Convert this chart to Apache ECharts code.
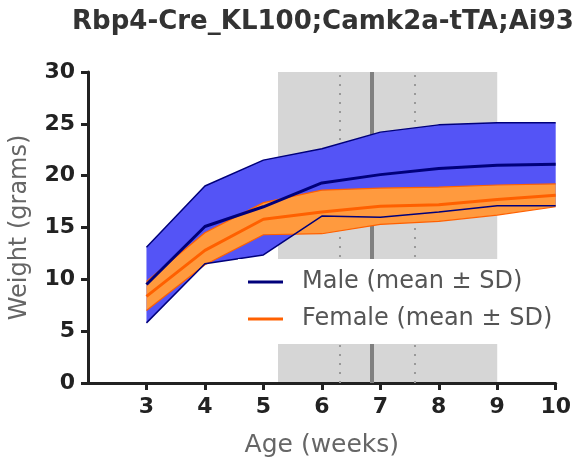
<!DOCTYPE html>
<html><head><meta charset="utf-8">
<script src="https://cdn.jsdelivr.net/npm/echarts@6/dist/echarts.min.js"></script>
<style>html,body{margin:0;padding:0;background:#fff}#c{width:574px;height:463px}</style>
</head><body><div id="c"></div>
<script>
const weeks = [3, 4, 5, 6, 7, 8, 9, 10];
const maleMean  = [9.5, 15.1, 17.0, 19.3, 20.1, 20.7, 21.0, 21.1];
const maleUpper = [13.1, 19.0, 21.5, 22.6, 24.2, 24.9, 25.1, 25.1];
const maleLower = [5.8, 11.5, 12.35, 16.1, 16.0, 16.5, 17.1, 17.1];
const femaleMean  = [8.35, 12.8, 15.8, 16.5, 17.05, 17.2, 17.7, 18.1];
const femaleUpper = [9.8, 14.5, 17.4, 18.6, 18.8, 18.9, 19.1, 19.2];
const femaleLower = [7.0, 11.4, 14.3, 14.4, 15.3, 15.6, 16.2, 17.0];
const xTicks = [3, 4, 5, 6, 7, 8, 9, 10];
const shadeRange = [5.25, 9.0];
const solidMark = 6.86;
const dottedMarks = [6.3, 7.59];

const pts = arr => weeks.map((w, i) => [w, arr[i]]);
const bandRows = (up, lo) => weeks.map((w, i) => [w, up[i], lo[i]]);

const FONT = 'DejaVu Sans';
const maleFill = '#5454F6', maleLine = '#00007A';
const femFill = '#FF9A3E', femLine = '#FF6000';

function bandRenderer(color) {
  return function (params, api) {
    if (params.dataIndex !== 0) return null;
    const top = [], bot = [];
    for (let i = 0; i < weeks.length; i++) {
      top.push(api.coord([api.value(0, i), api.value(1, i)]));
      bot.push(api.coord([api.value(0, i), api.value(2, i)]));
    }
    return { type: 'polygon', shape: { points: top.concat(bot.reverse()) },
      style: { fill: color }, silent: true };
  };
}

const chart = echarts.init(document.getElementById('c'));
chart.setOption({
  animation: false,
  title: { text: 'Rbp4-Cre_KL100;Camk2a-tTA;Ai93', left: 318, textAlign: 'center', top: 4,
    textStyle: { fontFamily: FONT, fontWeight: 'bold', fontSize: 26, color: '#333' } },
  grid: { left: 83, right: 16, top: 72, bottom: 76, containLabel: false },
  legend: {
    data: ['Male (mean ± SD)', 'Female (mean ± SD)'],
    orient: 'vertical', left: 238, top: 259, z: 10,
    padding: [10, 8, 12, 10], itemGap: 11,
    backgroundColor: '#fff',
    icon: 'rect', itemWidth: 35, itemHeight: 3,
    textStyle: { fontFamily: FONT, fontSize: 24, color: '#555', lineHeight: 26, padding: [0, 0, 0, 14] }
  },
  xAxis: {
    type: 'value', min: 2, max: 10, interval: 1,
    name: 'Age (weeks)', nameLocation: 'middle', nameGap: 50,
    nameTextStyle: { fontFamily: FONT, fontSize: 25, color: '#666' },
    axisLine: { lineStyle: { color: '#222', width: 3 } },
    axisTick: { show: true, length: 7, lineStyle: { width: 3, color: '#222' }, customValues: xTicks },
    axisLabel: { fontFamily: FONT, fontWeight: 'bold', fontSize: 22, color: '#222', margin: 13, customValues: xTicks },
    splitLine: { show: false }
  },
  yAxis: {
    type: 'value', min: 0, max: 30, interval: 5,
    name: 'Weight (grams)', nameLocation: 'middle', nameGap: 56,
    nameTextStyle: { fontFamily: FONT, fontSize: 24, color: '#666' },
    axisLine: { show: true, lineStyle: { color: '#222', width: 3 } },
    axisTick: { show: true, length: 7, lineStyle: { width: 3, color: '#222' } },
    axisLabel: { fontFamily: FONT, fontWeight: 'bold', fontSize: 22, color: '#222', margin: 13 },
    splitLine: { show: false }
  },
  series: [
    { type: 'line', name: 'shade', data: [], z: 0, silent: true,
      markArea: { silent: true, z: 0, itemStyle: { color: '#d6d6d6' },
        data: [[{ xAxis: shadeRange[0], yAxis: 0 }, { xAxis: shadeRange[1], yAxis: 30 }]] },
      markLine: { silent: true, z: 1, symbol: 'none', label: { show: false },
        data: [
          { xAxis: solidMark, lineStyle: { color: '#808080', width: 4, type: 'solid' } },
          { xAxis: dottedMarks[0], lineStyle: { color: '#999', width: 2, type: [2, 7] } },
          { xAxis: dottedMarks[1], lineStyle: { color: '#999', width: 2, type: [2, 7] } }
        ] } },
    { type: 'custom', name: 'mBand', data: bandRows(maleUpper, maleLower), renderItem: bandRenderer(maleFill), z: 2, silent: true,
      encode: { x: 0, y: [1, 2] } },
    { type: 'custom', name: 'fBand', data: bandRows(femaleUpper, femaleLower), renderItem: bandRenderer(femFill), z: 3, silent: true,
      encode: { x: 0, y: [1, 2] } },
    { type: 'line', name: 'mUp', data: pts(maleUpper), symbol: 'none', lineStyle: { color: maleLine, width: 1.5 }, z: 4 },
    { type: 'line', name: 'fUp', data: pts(femaleUpper), symbol: 'none', lineStyle: { color: femLine, width: 1.2 }, z: 4 },
    { type: 'line', name: 'fLo', data: pts(femaleLower), symbol: 'none', lineStyle: { color: femLine, width: 1.2 }, z: 4 },
    { type: 'line', name: 'mLo', data: pts(maleLower), symbol: 'none', lineStyle: { color: maleLine, width: 1.5 }, z: 5 },
    { type: 'line', name: 'Female (mean ± SD)', data: pts(femaleMean), symbol: 'none', itemStyle: { color: femLine }, lineStyle: { color: femLine, width: 3 }, z: 5 },
    { type: 'line', name: 'Male (mean ± SD)', data: pts(maleMean), symbol: 'none', itemStyle: { color: maleLine }, lineStyle: { color: maleLine, width: 3 }, z: 6 }
  ]
});
</script></body></html>
